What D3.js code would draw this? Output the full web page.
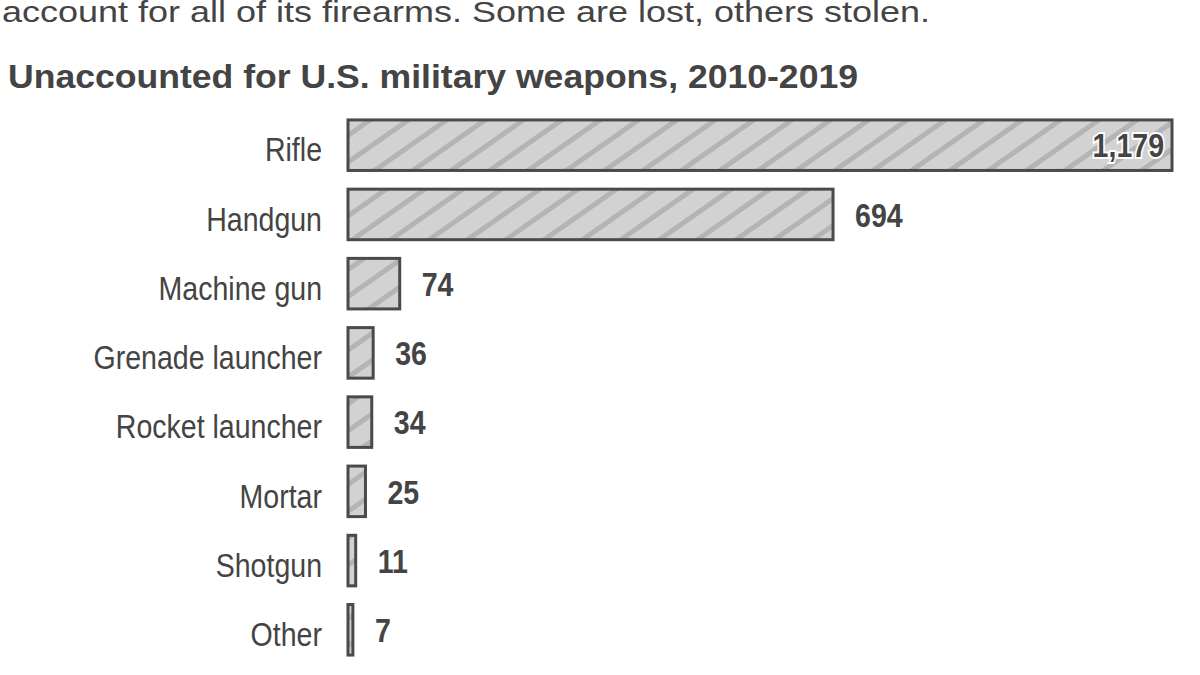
<!DOCTYPE html>
<html><head><meta charset="utf-8">
<script src="https://cdn.jsdelivr.net/npm/d3@7"></script>
<style>body{margin:0;background:#fff}</style>
</head><body>
<script>
var categories = ["Rifle","Handgun","Machine gun","Grenade launcher","Rocket launcher","Mortar","Shotgun","Other"];
var values = [1179,694,74,36,34,25,11,7];

var width = 1200, height = 675;
var svg = d3.select("body").append("svg").attr("width", width).attr("height", height);
var sans = "Liberation Sans, Arial, sans-serif";
var squeeze = 0.84; // fake narrow face

var defs = svg.append("defs");
var pat = defs.append("pattern").attr("id","hatch").attr("patternUnits","userSpaceOnUse")
  .attr("width",22).attr("height",22).attr("patternTransform","rotate(55)");
pat.append("rect").attr("width",22).attr("height",22).attr("fill","#d2d2d2");
pat.append("rect").attr("width",5).attr("height",22).attr("fill","#b4b4b4");

svg.append("text").attr("x",2).attr("y",22).attr("fill","#444")
  .style("font-family",sans).style("font-size","30px")
  .attr("textLength",928).attr("lengthAdjust","spacingAndGlyphs")
  .text("account for all of its firearms. Some are lost, others stolen.");
svg.append("text").attr("x",8).attr("y",88).attr("fill","#444")
  .style("font-family",sans).style("font-weight","bold").style("font-size","33px")
  .attr("textLength",850).attr("lengthAdjust","spacingAndGlyphs")
  .text("Unaccounted for U.S. military weapons, 2010-2019");

var x = d3.scaleLinear().domain([0,1179]).range([348,1172]);
var y = d3.scaleBand().domain(categories).range([113,662]).paddingInner(0.27).paddingOuter(0.1);

var g = svg.append("g");
g.selectAll("rect.bar").data(values).enter().append("rect")
  .attr("x", x(0)).attr("y", function(d,i){return y(categories[i]);})
  .attr("width", function(d){return Math.max(x(d)-x(0),4);})
  .attr("height", y.bandwidth())
  .attr("fill","url(#hatch)").attr("stroke","#4a4a4a").attr("stroke-width",3);

g.selectAll("text.cat").data(categories).enter().append("text")
  .attr("transform",function(d){return "translate(322," + (y(d)+y.bandwidth()/2+4) + ") scale(" + squeeze + ",1)";})
  .attr("dy","0.36em")
  .attr("text-anchor","end").attr("fill","#444")
  .style("font-family",sans).style("font-size","34px")
  .text(function(d){return d;});

g.selectAll("text.val").data(values).enter().append("text")
  .attr("transform",function(d,i){
    var tx = i==0 ? x(d)-8 : x(d)+22;
    return "translate(" + tx + "," + (y(categories[i])+y.bandwidth()/2) + ") scale(" + squeeze + ",1)";})
  .attr("dy","0.36em")
  .attr("text-anchor",function(d,i){return i==0?"end":"start";})
  .attr("fill","#444").attr("stroke",function(d,i){return i==0?"#fff":"none";}).attr("stroke-width",4)
  .attr("paint-order","stroke")
  .style("font-family",sans).style("font-weight","bold").style("font-size","34px")
  .text(function(d){return d3.format(",")(d);});
</script>
</body></html>
